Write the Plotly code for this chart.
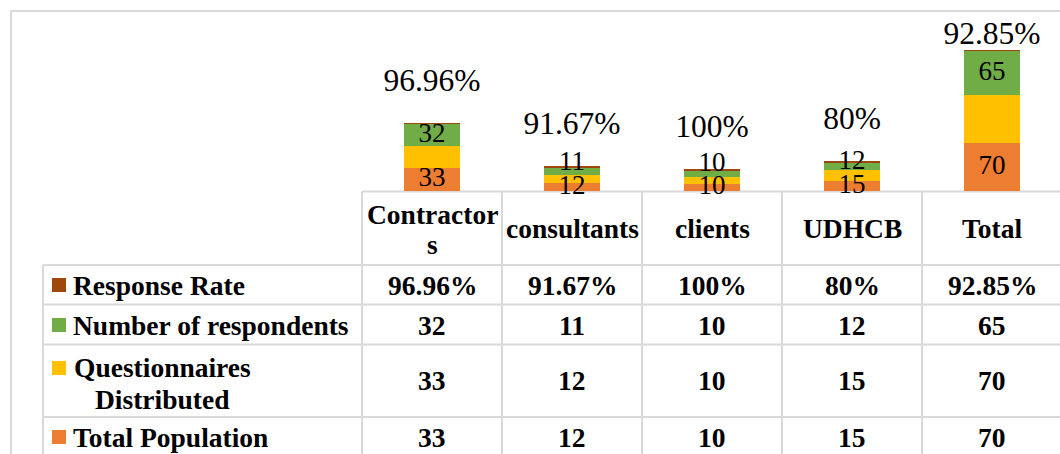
import plotly.graph_objects as go

# ---------------- data ----------------
categories = ["Contractors", "consultants", "clients", "UDHCB", "Total"]
header_lines = [["Contractor", "s"], ["consultants"], ["clients"], ["UDHCB"], ["Total"]]
total_population = [33, 12, 10, 15, 70]
questionnaires = [33, 12, 10, 15, 70]
respondents = [32, 11, 10, 12, 65]
response_rate = [96.96, 91.67, 100, 80, 92.85]          # percent
rate_labels = ["96.96%", "91.67%", "100%", "80%", "92.85%"]

series_names = ["Total Population", "Questionnaires Distributed",
                "Number of respondents", "Response Rate"]
colors = {"Total Population": "#ED7D31", "Questionnaires Distributed": "#FFC000",
          "Number of respondents": "#70AD47", "Response Rate": "#9E480E"}

# ---------------- geometry helpers ----------------
W, H = 1060, 454
L, R, T, B = 362, 0, 11, 263
PW, PH = W - L - R, H - T - B
YMAX = 262.9
FONT = "Liberation Serif, Times New Roman, serif"
GRID = "#D9D9D9"
TFS = 27.5


def px_x(x):
    return (x - L) / PW


def px_y(y):
    return (H - B - y) / PH


fig = go.Figure()

rate_vals = [r / 100 for r in response_rate]
stack = [total_population, questionnaires, respondents, rate_vals]
for name, vals in zip(series_names, stack):
    fig.add_trace(go.Bar(x=categories, y=vals, name=name, width=0.4,
                         marker=dict(color=colors[name], line=dict(width=0)),
                         showlegend=False, hoverinfo="skip"))

# segment labels (Total Population and Number of respondents)
pop_mid = [p / 2 for p in total_population]
resp_mid = [max(p + q + r / 2, pm + 34) for p, q, r, pm in
            zip(total_population, questionnaires, respondents, pop_mid)]
fig.add_trace(go.Scatter(x=categories, y=pop_mid, mode="text",
                         text=[str(v) for v in total_population],
                         textfont=dict(family=FONT, size=27, color="black"),
                         textposition="middle center", cliponaxis=False,
                         showlegend=False, hoverinfo="skip"))
fig.add_trace(go.Scatter(x=categories, y=resp_mid, mode="text",
                         text=[str(v) for v in respondents],
                         textfont=dict(family=FONT, size=27, color="black"),
                         textposition="middle center", cliponaxis=False,
                         showlegend=False, hoverinfo="skip"))
# response rate labels above bars
tops = [p + q + r + rr for p, q, r, rr in zip(total_population, questionnaires, respondents, rate_vals)]
rate_y = [min(t + 59, 226) for t in tops]
fig.add_trace(go.Scatter(x=categories, y=rate_y, mode="text", text=rate_labels,
                         textfont=dict(family=FONT, size=31.5, color="black"),
                         textposition="middle center", cliponaxis=False,
                         showlegend=False, hoverinfo="skip"))

shapes = []


def hline(y, x0, x1):
    shapes.append(dict(type="line", xref="paper", yref="paper",
                       x0=px_x(x0), x1=px_x(x1), y0=px_y(y), y1=px_y(y),
                       line=dict(color=GRID, width=2), layer="below"))


def vline(x, y0, y1):
    shapes.append(dict(type="line", xref="paper", yref="paper",
                       x0=px_x(x), x1=px_x(x), y0=px_y(y0), y1=px_y(y1),
                       line=dict(color=GRID, width=2), layer="below"))


# chart border
vline(11, 11, 470)
hline(11, 11, 1070)
# table lines
row_lines = [265, 304.5, 344.5, 417]
hline(191.5, 362, 1070)
for y in row_lines:
    hline(y, 43, 1070)
vline(43, 265, 470)
for k in range(len(categories)):
    vline(362 + 140 * k, 191.5, 470)

annotations = []


def text(x, y, s, size=TFS, anchor="center", xref="x"):
    annotations.append(dict(x=x, y=px_y(y), xref=xref, yref="paper", text=s,
                            showarrow=False, xanchor=anchor, yanchor="middle",
                            font=dict(family=FONT, size=size, color="black")))


# header row
for cat, lines in zip(categories, header_lines):
    if len(lines) == 1:
        text(cat, 229, "<b>%s</b>" % lines[0])
    else:
        text(cat, 214, "<b>%s</b>" % lines[0])
        text(cat, 244, "<b>%s</b>" % lines[1])

# data rows
row_centers = {"Response Rate": 285, "Number of respondents": 325,
               "Questionnaires Distributed": 381, "Total Population": 437}
row_values = {"Response Rate": rate_labels,
              "Number of respondents": [str(v) for v in respondents],
              "Questionnaires Distributed": [str(v) for v in questionnaires],
              "Total Population": [str(v) for v in total_population]}
for name in ["Response Rate", "Number of respondents",
             "Questionnaires Distributed", "Total Population"]:
    yc = row_centers[name]
    for cat, v in zip(categories, row_values[name]):
        text(cat, yc, "<b>%s</b>" % v)
    # legend key + label
    key_y = yc if name != "Questionnaires Distributed" else 368
    shapes.append(dict(type="rect", xref="paper", yref="paper",
                       x0=px_x(52), x1=px_x(66), y0=px_y(key_y - 7), y1=px_y(key_y + 7),
                       fillcolor=colors[name], line=dict(width=0)))
    if name == "Questionnaires Distributed":
        text(px_x(162), 367, "<b>Questionnaires</b>", xref="paper")
        text(px_x(162), 399, "<b>Distributed</b>", xref="paper")
    else:
        text(px_x(71), yc, "<b>%s</b>" % name, anchor="left", xref="paper")

fig.update_layout(
    width=W, height=H,
    margin=dict(l=L, r=R, t=T, b=B, pad=0),
    paper_bgcolor="white", plot_bgcolor="rgba(0,0,0,0)",
    barmode="stack", bargap=0.6,
    xaxis=dict(type="category", categoryorder="array", categoryarray=categories,
               range=[-0.5, -0.5 + PW / 140], visible=False, fixedrange=True),
    yaxis=dict(range=[0, YMAX], visible=False, fixedrange=True),
    shapes=shapes, annotations=annotations,
    showlegend=False,
)

fig.write_html("out.html")
